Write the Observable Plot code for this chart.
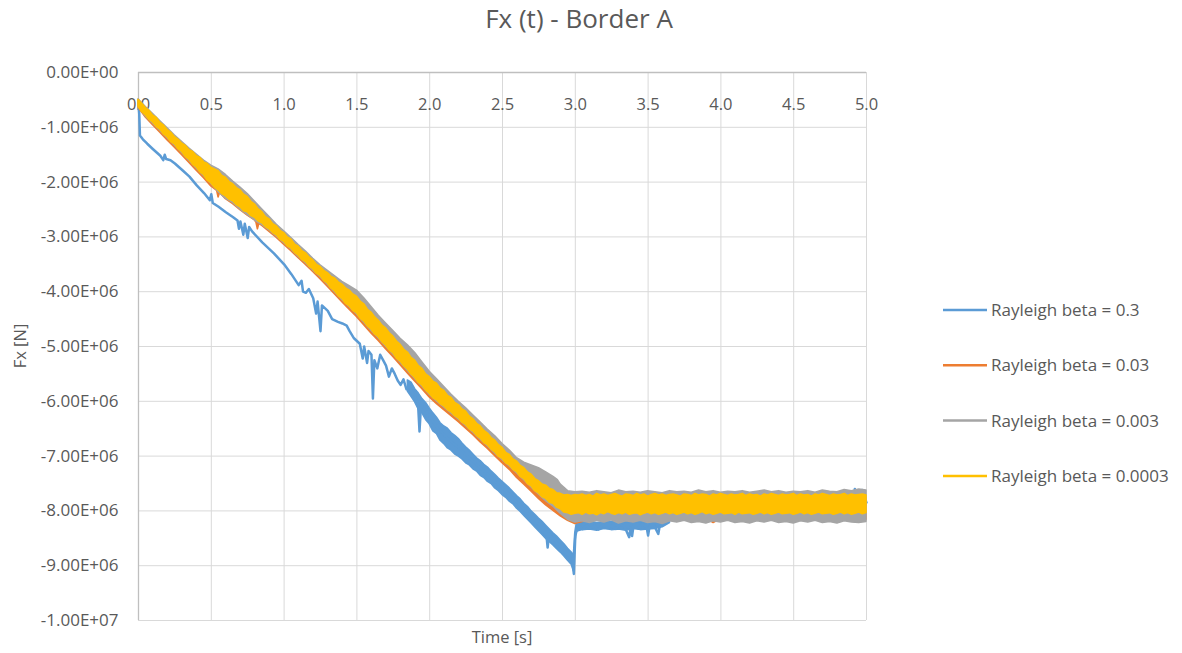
<!DOCTYPE html>
<html>
<head>
<meta charset="utf-8">
<script src="https://cdn.jsdelivr.net/npm/d3@7"></script>
<script src="https://cdn.jsdelivr.net/npm/@observablehq/plot@0.6"></script>
<style>
  html, body { margin: 0; padding: 0; background: #ffffff; }
  #chart { width: 1182px; height: 653px; }
  svg { font-family: "Open Sans", sans-serif; }
</style>
</head>
<body>
<div id="chart"></div>
<script>
// ---------- labels ----------
const chartTitle = "Fx (t) - Border A";
const xTitle = "Time [s]";
const yTitle = "Fx [N]";
const seriesNames = ["Rayleigh beta = 0.3", "Rayleigh beta = 0.03", "Rayleigh beta = 0.003", "Rayleigh beta = 0.0003"];
const seriesColors = ["#5b9bd5", "#ed7d31", "#a5a5a5", "#ffc000"];

const xTicks = [0, 0.5, 1, 1.5, 2, 2.5, 3, 3.5, 4, 4.5, 5];
const xTickLabels = ["0.0", "0.5", "1.0", "1.5", "2.0", "2.5", "3.0", "3.5", "4.0", "4.5", "5.0"];
const yTicks = [0, -1e6, -2e6, -3e6, -4e6, -5e6, -6e6, -7e6, -8e6, -9e6, -1e7];
const yTickLabels = ["0.00E+00", "-1.00E+06", "-2.00E+06", "-3.00E+06", "-4.00E+06", "-5.00E+06", "-6.00E+06", "-7.00E+06", "-8.00E+06", "-9.00E+06", "-1.00E+07"];

// ---------- beta = 0.3 : trace [time s, Fx 1e6 N] ----------
const beta03 = [
[0,-0.60],[0.005,-0.75],[0.01,-1.15],[0.03,-1.22],[0.06,-1.30],[0.1,-1.40],[0.15,-1.52],[0.17,-1.60],[0.18,-1.50],[0.19,-1.58],
[0.22,-1.60],[0.25,-1.66],[0.3,-1.78],[0.35,-1.90],[0.4,-2.06],[0.45,-2.20],[0.49,-2.33],[0.5,-2.22],[0.51,-2.38],[0.55,-2.45],
[0.6,-2.55],[0.65,-2.64],[0.68,-2.70],[0.69,-2.85],[0.7,-2.72],[0.72,-2.96],[0.73,-2.76],[0.75,-3.02],[0.76,-2.82],[0.78,-2.90],
[0.85,-3.10],[0.93,-3.30],[1.0,-3.50],[1.05,-3.68],[1.1,-3.88],[1.12,-3.80],[1.13,-4.00],[1.15,-4.02],[1.17,-3.95],[1.2,-4.12],
[1.22,-4.40],[1.23,-4.18],[1.25,-4.72],[1.26,-4.25],[1.3,-4.35],[1.33,-4.50],[1.37,-4.55],[1.4,-4.58],[1.43,-4.62],[1.45,-4.72],
[1.48,-4.85],[1.5,-4.90],[1.52,-4.95],[1.54,-5.22],[1.55,-5.00],[1.57,-5.30],[1.58,-5.08],[1.6,-5.15],[1.61,-5.95],[1.62,-5.25],
[1.64,-5.40],[1.66,-5.15],[1.68,-5.25],[1.7,-5.35],[1.72,-5.55],[1.74,-5.40],[1.76,-5.50],[1.78,-5.62],[1.8,-5.70],[1.82,-5.60],
[1.84,-5.78],[1.86,-5.72],[1.88,-5.85],[1.9,-5.90],[1.92,-6.05],[1.93,-6.55],[1.94,-6.08],[1.96,-6.12],[2.0,-6.28],[2.05,-6.47],
[2.1,-6.62],[2.15,-6.74],[2.2,-6.85],[2.25,-6.98],[2.3,-7.10],[2.35,-7.22],[2.4,-7.34],[2.45,-7.46],[2.5,-7.59],[2.55,-7.71],
[2.6,-7.84],[2.65,-7.98],[2.7,-8.12],[2.75,-8.25],[2.8,-8.39],[2.81,-8.67],[2.82,-8.42],[2.85,-8.52],[2.9,-8.65],[2.95,-8.80],
[2.98,-8.90],[2.99,-9.15],[3.0,-8.45],[3.01,-8.35],[3.03,-8.28],[3.05,-8.33],[3.08,-8.26],[3.1,-8.32],[3.13,-8.27],[3.16,-8.34],
[3.19,-8.25],[3.22,-8.31],[3.25,-8.27],[3.28,-8.33],[3.31,-8.24],[3.34,-8.30],[3.37,-8.48],[3.38,-8.30],[3.39,-8.46],[3.4,-8.27],
[3.43,-8.31],[3.46,-8.24],[3.49,-8.30],[3.5,-8.45],[3.51,-8.28],[3.54,-8.26],[3.57,-8.42],[3.58,-8.27],[3.61,-8.22],[3.64,-8.18],
[3.67,-8.12],[3.7,-8.05],[3.75,-7.82],[3.8,-8.12],[3.85,-7.79],[3.9,-8.14],[3.95,-7.84],[4.0,-8.10],[4.05,-7.80],[4.1,-8.13],
[4.15,-7.83],[4.2,-8.11],[4.25,-7.78],[4.3,-8.14],[4.35,-7.82],[4.4,-8.12],[4.45,-7.80],[4.5,-8.10],[4.55,-7.84],[4.6,-8.13],
[4.65,-7.79],[4.7,-8.11],[4.75,-7.83],[4.8,-8.14],[4.85,-7.80],[4.9,-8.09],[4.92,-7.60],[4.94,-8.05],[4.97,-7.62],[5.0,-7.85]
];
// beta = 0.3 : noise envelope of the dense part [time, upper, lower]
const beta03Band = [
[1.85,-5.62,-5.82],[1.875,-5.66,-5.92],[1.9,-5.78,-6.02],[1.925,-5.86,-6.15],[1.95,-5.96,-6.22],[1.975,-6.03,-6.34],
[2.0,-6.13,-6.42],[2.025,-6.22,-6.55],[2.05,-6.30,-6.60],[2.075,-6.40,-6.72],[2.1,-6.46,-6.78],[2.125,-6.50,-6.86],
[2.15,-6.58,-6.90],[2.175,-6.63,-6.97],[2.2,-6.69,-7.01],[2.225,-6.77,-7.06],[2.25,-6.84,-7.13],[2.275,-6.90,-7.17],
[2.3,-6.97,-7.24],[2.325,-7.04,-7.28],[2.35,-7.09,-7.36],[2.375,-7.16,-7.40],[2.4,-7.21,-7.47],[2.425,-7.28,-7.51],
[2.45,-7.34,-7.59],[2.475,-7.41,-7.64],[2.5,-7.47,-7.71],[2.525,-7.53,-7.76],[2.55,-7.59,-7.83],[2.575,-7.66,-7.88],
[2.6,-7.73,-7.96],[2.625,-7.79,-8.02],[2.65,-7.87,-8.09],[2.675,-7.93,-8.16],[2.7,-8.01,-8.23],[2.725,-8.07,-8.30],
[2.75,-8.14,-8.37],[2.775,-8.20,-8.44],[2.8,-8.27,-8.51],[2.825,-8.34,-8.57],[2.85,-8.41,-8.63],[2.875,-8.47,-8.70],
[2.9,-8.54,-8.76],[2.925,-8.61,-8.83],[2.95,-8.69,-8.91],[2.975,-8.76,-8.98],[2.99,-8.82,-9.10],[3.0,-8.40,-8.60],
[3.01,-8.24,-8.38],[3.05,-8.22,-8.35],[3.1,-8.20,-8.34],[3.15,-8.22,-8.36],[3.2,-8.21,-8.33],[3.25,-8.20,-8.35],
[3.3,-8.22,-8.34],[3.35,-8.20,-8.36],[3.4,-8.21,-8.33],[3.45,-8.20,-8.35],[3.5,-8.19,-8.34],[3.55,-8.20,-8.33],
[3.6,-8.18,-8.30],[3.65,-8.12,-8.22]
];

// beta = 0.03 : noise envelope [time, upper, lower]
const beta003Band = [
[0,-0.52,-0.64],[0.05,-0.66,-0.82],[0.1,-0.80,-0.96],[0.15,-0.93,-1.10],[0.2,-1.06,-1.24],[0.25,-1.19,-1.37],
[0.3,-1.31,-1.51],[0.35,-1.43,-1.65],[0.4,-1.54,-1.79],[0.45,-1.65,-1.93],[0.5,-1.76,-2.08],[0.54,-1.82,-2.16],
[0.55,-1.84,-2.28],[0.56,-1.86,-2.20],[0.6,-1.94,-2.31],[0.65,-2.06,-2.40],[0.7,-2.17,-2.51],[0.75,-2.29,-2.61],
[0.8,-2.43,-2.70],[0.81,-2.45,-2.74],[0.82,-2.48,-2.86],[0.83,-2.50,-2.76],[0.85,-2.56,-2.80],[0.9,-2.70,-2.91],
[0.95,-2.83,-3.02],[1.0,-2.95,-3.14],[1.05,-3.07,-3.26],[1.1,-3.19,-3.39],[1.15,-3.32,-3.51],[1.2,-3.44,-3.64],
[1.25,-3.56,-3.77],[1.3,-3.68,-3.91],[1.35,-3.78,-4.05],[1.4,-3.89,-4.19],[1.45,-4.00,-4.33],[1.5,-4.11,-4.46],
[1.55,-4.25,-4.61],[1.6,-4.40,-4.76],[1.65,-4.55,-4.90],[1.7,-4.69,-5.05],[1.75,-4.84,-5.19],[1.8,-4.99,-5.34],
[1.85,-5.13,-5.49],[1.9,-5.28,-5.64],[1.95,-5.43,-5.78],[2.0,-5.58,-5.93],[2.05,-5.70,-6.05],[2.1,-5.83,-6.16],
[2.15,-5.96,-6.27],[2.2,-6.08,-6.38],[2.25,-6.21,-6.50],[2.3,-6.34,-6.62],[2.35,-6.47,-6.75],[2.4,-6.60,-6.87],
[2.45,-6.73,-7.00],[2.5,-6.86,-7.13],[2.55,-6.99,-7.25],[2.6,-7.11,-7.40],[2.65,-7.23,-7.52],[2.7,-7.35,-7.65],
[2.75,-7.47,-7.78],[2.8,-7.55,-7.90],[2.85,-7.63,-8.00],[2.9,-7.70,-8.10],[2.95,-7.72,-8.18],[3.0,-7.72,-8.24],
[3.05,-7.74,-8.20],[3.1,-7.73,-8.17],[3.2,-7.74,-8.15],[3.3,-7.75,-8.13],[3.4,-7.73,-8.16],[3.5,-7.74,-8.14],
[3.6,-7.76,-8.15],[3.7,-7.73,-8.13],[3.8,-7.75,-8.16],[3.9,-7.74,-8.14],[3.95,-7.74,-8.22],[4.0,-7.73,-8.15],
[4.1,-7.75,-8.13],[4.2,-7.74,-8.16],[4.3,-7.73,-8.14],[4.4,-7.75,-8.15],[4.5,-7.74,-8.13],[4.6,-7.73,-8.16],
[4.7,-7.75,-8.14],[4.8,-7.74,-8.15],[4.9,-7.73,-8.13],[5.0,-7.75,-8.16]
];

// beta = 0.003 : noise envelope [time, upper, lower]
const beta0003Band = [
[0,-0.49,-0.62],[0.05,-0.63,-0.80],[0.1,-0.76,-0.93],[0.15,-0.89,-1.06],[0.2,-1.02,-1.20],[0.25,-1.15,-1.33],
[0.3,-1.27,-1.47],[0.35,-1.39,-1.61],[0.4,-1.50,-1.75],[0.45,-1.61,-1.89],[0.5,-1.70,-2.03],[0.55,-1.77,-2.18],
[0.6,-1.87,-2.30],[0.65,-1.99,-2.38],[0.7,-2.10,-2.50],[0.75,-2.22,-2.60],[0.8,-2.36,-2.70],[0.85,-2.50,-2.78],
[0.9,-2.64,-2.88],[0.95,-2.78,-2.99],[1.0,-2.90,-3.11],[1.05,-3.02,-3.23],[1.1,-3.15,-3.36],[1.15,-3.27,-3.48],
[1.2,-3.40,-3.61],[1.25,-3.52,-3.73],[1.3,-3.62,-3.87],[1.35,-3.72,-4.01],[1.4,-3.82,-4.15],[1.45,-3.90,-4.28],
[1.5,-3.98,-4.41],[1.55,-4.12,-4.56],[1.6,-4.28,-4.71],[1.65,-4.44,-4.85],[1.7,-4.58,-5.00],[1.75,-4.72,-5.14],
[1.8,-4.86,-5.29],[1.85,-4.98,-5.44],[1.9,-5.12,-5.59],[1.95,-5.29,-5.73],[2.0,-5.46,-5.88],[2.05,-5.60,-6.00],
[2.1,-5.74,-6.11],[2.15,-5.88,-6.22],[2.2,-6.01,-6.33],[2.25,-6.13,-6.45],[2.3,-6.26,-6.57],[2.35,-6.39,-6.70],
[2.4,-6.52,-6.82],[2.45,-6.64,-6.95],[2.5,-6.78,-7.07],[2.55,-6.90,-7.19],[2.6,-7.04,-7.31],[2.65,-7.12,-7.44],
[2.7,-7.17,-7.57],[2.75,-7.22,-7.70],[2.8,-7.30,-7.82],[2.85,-7.38,-7.92],[2.88,-7.44,-8.00],[2.9,-7.52,-8.05],
[2.95,-7.64,-8.16],[3.0,-7.66,-8.21],
[3.05,-7.65,-8.19],[3.1,-7.67,-8.22],[3.15,-7.64,-8.18],[3.2,-7.66,-8.21],[3.25,-7.68,-8.17],[3.3,-7.63,-8.23],
[3.35,-7.66,-8.19],[3.4,-7.65,-8.21],[3.45,-7.67,-8.18],[3.5,-7.64,-8.22],[3.55,-7.66,-8.20],[3.6,-7.68,-8.24],
[3.65,-7.64,-8.19],[3.7,-7.66,-8.21],[3.75,-7.65,-8.18],[3.8,-7.67,-8.22],[3.85,-7.63,-8.20],[3.9,-7.66,-8.23],
[3.95,-7.64,-8.19],[4.0,-7.67,-8.21],[4.05,-7.65,-8.18],[4.1,-7.66,-8.22],[4.15,-7.64,-8.20],[4.2,-7.67,-8.23],
[4.25,-7.65,-8.19],[4.3,-7.63,-8.21],[4.35,-7.66,-8.18],[4.4,-7.64,-8.22],[4.45,-7.67,-8.20],[4.5,-7.65,-8.23],
[4.55,-7.66,-8.19],[4.6,-7.64,-8.21],[4.65,-7.67,-8.18],[4.7,-7.63,-8.22],[4.75,-7.65,-8.20],[4.8,-7.66,-8.23],
[4.85,-7.62,-8.19],[4.9,-7.64,-8.21],[4.95,-7.61,-8.22],[5.0,-7.63,-8.20]
];

// beta = 0.0003 : noise envelope [time, upper, lower]
const beta00003Band = [
[0,-0.50,-0.62],[0.025,-0.57,-0.72],[0.05,-0.65,-0.78],[0.075,-0.70,-0.86],[0.1,-0.79,-0.91],[0.125,-0.83,-0.99],
[0.15,-0.92,-1.04],[0.175,-0.97,-1.13],[0.2,-1.05,-1.18],[0.225,-1.10,-1.27],[0.25,-1.18,-1.31],[0.275,-1.23,-1.40],
[0.3,-1.30,-1.45],[0.325,-1.34,-1.54],[0.35,-1.42,-1.59],[0.375,-1.45,-1.68],[0.4,-1.53,-1.73],[0.425,-1.56,-1.82],
[0.45,-1.64,-1.87],[0.475,-1.67,-1.97],[0.5,-1.74,-2.02],[0.525,-1.77,-2.10],[0.55,-1.80,-2.15],[0.575,-1.89,-2.22],
[0.6,-1.92,-2.26],[0.625,-2.00,-2.32],[0.65,-2.04,-2.35],[0.675,-2.11,-2.42],[0.7,-2.15,-2.46],[0.725,-2.23,-2.53],
[0.75,-2.27,-2.55],[0.775,-2.36,-2.62],[0.8,-2.41,-2.65],[0.825,-2.50,-2.72],[0.85,-2.55,-2.75],[0.875,-2.64,-2.82],
[0.9,-2.68,-2.86],[0.925,-2.77,-2.93],[0.95,-2.81,-2.97],[0.975,-2.89,-3.05],[1.0,-2.93,-3.09],[1.025,-3.01,-3.17],
[1.05,-3.05,-3.21],[1.075,-3.14,-3.29],[1.1,-3.18,-3.34],[1.125,-3.26,-3.42],[1.15,-3.30,-3.46],[1.175,-3.38,-3.54],
[1.2,-3.43,-3.59],[1.225,-3.51,-3.67],[1.25,-3.55,-3.71],[1.275,-3.62,-3.80],[1.3,-3.66,-3.85],[1.325,-3.73,-3.94],
[1.35,-3.76,-3.99],[1.375,-3.83,-4.08],[1.4,-3.87,-4.13],[1.425,-3.94,-4.22],[1.45,-3.98,-4.26],[1.475,-4.05,-4.35],
[1.5,-4.09,-4.39],[1.525,-4.18,-4.49],[1.55,-4.23,-4.54],[1.575,-4.33,-4.63],[1.6,-4.38,-4.69],[1.625,-4.47,-4.78],
[1.65,-4.53,-4.83],[1.675,-4.62,-4.92],[1.7,-4.67,-4.98],[1.725,-4.76,-5.07],[1.75,-4.82,-5.12],[1.775,-4.91,-5.22],
[1.8,-4.97,-5.27],[1.825,-5.06,-5.36],[1.85,-5.11,-5.42],[1.875,-5.21,-5.51],[1.9,-5.26,-5.57],[1.925,-5.36,-5.66],
[1.95,-5.41,-5.71],[1.975,-5.51,-5.80],[2.0,-5.56,-5.86],[2.025,-5.64,-5.94],[2.05,-5.68,-5.98],[2.075,-5.77,-6.05],
[2.1,-5.81,-6.09],[2.125,-5.90,-6.16],[2.15,-5.94,-6.20],[2.175,-6.03,-6.27],[2.2,-6.07,-6.31],[2.225,-6.15,-6.39],
[2.25,-6.19,-6.43],[2.275,-6.28,-6.51],[2.3,-6.33,-6.55],[2.325,-6.41,-6.63],[2.35,-6.46,-6.68],[2.375,-6.54,-6.76],
[2.4,-6.59,-6.80],[2.425,-6.67,-6.88],[2.45,-6.72,-6.93],[2.475,-6.80,-7.01],[2.5,-6.85,-7.05],[2.525,-6.94,-7.13],
[2.55,-6.98,-7.17],[2.575,-7.06,-7.25],[2.6,-7.10,-7.29],[2.625,-7.18,-7.38],[2.65,-7.22,-7.42],[2.675,-7.30,-7.51],
[2.7,-7.34,-7.55],[2.725,-7.42,-7.64],[2.75,-7.46,-7.68],[2.775,-7.52,-7.75],[2.8,-7.54,-7.78],[2.825,-7.60,-7.85],
[2.85,-7.62,-7.87],[2.875,-7.68,-7.94],[2.9,-7.69,-7.97],[2.925,-7.72,-8.03],[2.95,-7.71,-8.04],[2.975,-7.73,-8.07],
[3.0,-7.71,-8.05],[3.025,-7.72,-8.04],[3.05,-7.70,-8.07],[3.075,-7.73,-8.03],[3.1,-7.71,-8.06],[3.125,-7.74,-8.05],
[3.15,-7.69,-8.08],[3.175,-7.72,-8.04],[3.2,-7.70,-8.06],[3.225,-7.73,-8.02],[3.25,-7.71,-8.05],[3.275,-7.69,-8.07],
[3.3,-7.72,-8.04],[3.325,-7.74,-8.06],[3.35,-7.70,-8.03],[3.375,-7.71,-8.07],[3.4,-7.73,-8.05],[3.425,-7.69,-8.04],
[3.45,-7.72,-8.08],[3.475,-7.70,-8.05],[3.5,-7.74,-8.03],[3.525,-7.71,-8.06],[3.55,-7.69,-8.04],[3.575,-7.72,-8.07],
[3.6,-7.70,-8.05],[3.625,-7.73,-8.03],[3.65,-7.71,-8.06],[3.675,-7.70,-8.04],[3.7,-7.72,-8.07],[3.725,-7.74,-8.05],
[3.75,-7.70,-8.03],[3.775,-7.71,-8.06],[3.8,-7.73,-8.04],[3.825,-7.69,-8.07],[3.85,-7.72,-8.05],[3.875,-7.70,-8.02],
[3.9,-7.71,-8.06],[3.925,-7.74,-8.04],[3.95,-7.70,-8.07],[3.975,-7.72,-8.05],[4.0,-7.69,-8.03],[4.025,-7.71,-8.06],
[4.05,-7.73,-8.05],[4.075,-7.70,-8.04],[4.1,-7.72,-8.07],[4.125,-7.71,-8.03],[4.15,-7.69,-8.06],[4.175,-7.73,-8.05],
[4.2,-7.70,-8.04],[4.225,-7.72,-8.07],[4.25,-7.71,-8.05],[4.275,-7.74,-8.03],[4.3,-7.70,-8.06],[4.325,-7.72,-8.04],
[4.35,-7.69,-8.07],[4.375,-7.71,-8.05],[4.4,-7.73,-8.03],[4.425,-7.70,-8.06],[4.45,-7.72,-8.05],[4.475,-7.71,-8.04],
[4.5,-7.69,-8.07],[4.525,-7.73,-8.05],[4.55,-7.70,-8.03],[4.575,-7.72,-8.06],[4.6,-7.71,-8.04],[4.625,-7.74,-8.07],
[4.65,-7.70,-8.05],[4.675,-7.72,-8.03],[4.7,-7.69,-8.06],[4.725,-7.71,-8.05],[4.75,-7.73,-8.04],[4.775,-7.70,-8.07],
[4.8,-7.72,-8.05],[4.825,-7.71,-8.03],[4.85,-7.69,-8.06],[4.875,-7.73,-8.04],[4.9,-7.70,-8.07],[4.925,-7.72,-8.05],
[4.95,-7.71,-8.03],[4.975,-7.70,-8.06],[5.0,-7.72,-8.04]
];

// ---------- chart ----------
const W = 1182, H = 653;
const M = {left: 138, right: 316, top: 72, bottom: 33};
const yLabelOf = new Map(yTicks.map((t, i) => [t, yTickLabels[i]]));
const MN = 1e6;

const band = (data, color) => Plot.areaY(data, {
  x: d => d[0], y1: d => d[1] * MN, y2: d => d[2] * MN,
  fill: color, fillOpacity: 1, stroke: color, strokeWidth: 1.6, strokeLinejoin: "round"
});

const chart = Plot.plot({
  width: W,
  height: H,
  marginLeft: M.left,
  marginRight: M.right,
  marginTop: M.top,
  marginBottom: M.bottom,
  style: {fontFamily: "'Open Sans', sans-serif", color: "#595959", background: "#ffffff", overflow: "visible"},
  x: {domain: [0, 5], axis: null},
  y: {domain: [-1e7, 0]},
  marks: [
    Plot.gridX(xTicks, {stroke: "#d9d9d9", strokeOpacity: 1, strokeWidth: 1}),
    Plot.gridY(yTicks, {stroke: "#d9d9d9", strokeOpacity: 1, strokeWidth: 1}),
    Plot.ruleY([0], {stroke: "#bfbfbf", strokeWidth: 1.3}),
    Plot.ruleX([0], {stroke: "#bfbfbf", strokeWidth: 1.3}),
    Plot.axisY(yTicks, {tickSize: 0, tickPadding: 20, tickFormat: d => yLabelOf.get(d), fontSize: 17, fill: "#595959", label: null}),
    Plot.text(xTicks, {x: d => d, frameAnchor: "top", dy: 26, text: (d, i) => xTickLabels[i], fontSize: 16.5, fill: "#595959"}),
    band(beta03Band, seriesColors[0]),
    Plot.line(beta03, {x: d => d[0], y: d => d[1] * MN, stroke: seriesColors[0], strokeWidth: 2.5, strokeLinejoin: "round"}),
    band(beta003Band, seriesColors[1]),
    band(beta0003Band, seriesColors[2]),
    band(beta00003Band, seriesColors[3])
  ]
});

document.getElementById("chart").append(chart);

// title, axis titles, legend
const svg = d3.select(chart);
svg.append("text")
  .attr("x", 579).attr("y", 28)
  .attr("text-anchor", "middle")
  .attr("font-size", 26).attr("fill", "#595959")
  .text(chartTitle);
svg.append("text")
  .attr("x", 502).attr("y", 643)
  .attr("text-anchor", "middle")
  .attr("font-size", 16.5).attr("fill", "#595959")
  .text(xTitle);
svg.append("text")
  .attr("transform", "translate(26,346) rotate(-90)")
  .attr("text-anchor", "middle")
  .attr("font-size", 16.5).attr("fill", "#595959")
  .text(yTitle);

const legendY0 = 310, legendStep = 55.3;
seriesNames.forEach((name, i) => {
  const y = legendY0 + i * legendStep;
  svg.append("line")
    .attr("x1", 943).attr("x2", 987).attr("y1", y).attr("y2", y)
    .attr("stroke", seriesColors[i]).attr("stroke-width", 2.5);
  svg.append("text")
    .attr("x", 991).attr("y", y).attr("dy", "0.35em")
    .attr("text-anchor", "start")
    .attr("font-size", 17).attr("fill", "#595959")
    .text(name);
});
</script>
</body>
</html>
